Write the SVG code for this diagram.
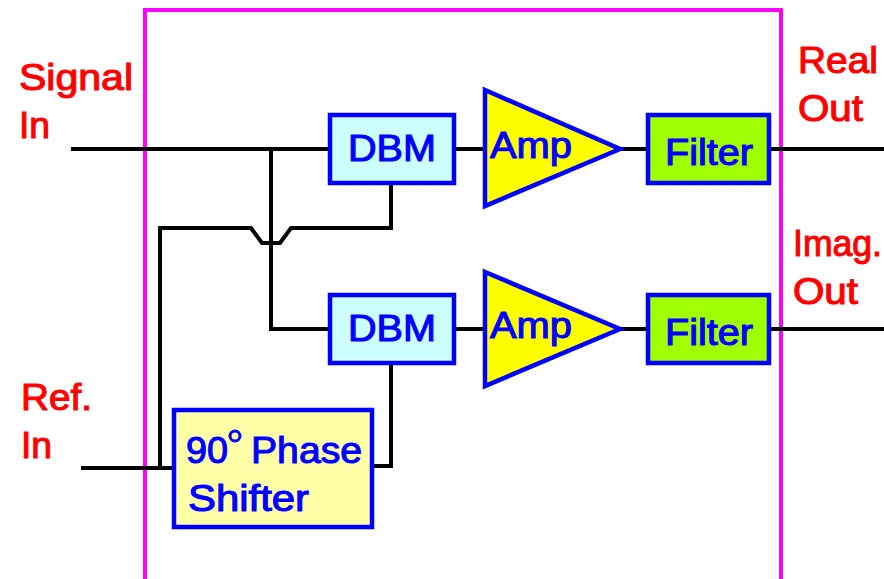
<svg xmlns="http://www.w3.org/2000/svg" width="884" height="579" viewBox="0 0 884 579">
<style>
text{font-family:"Liberation Sans",Arial,sans-serif;font-weight:400;font-size:37px;stroke-width:1.1px}
.l text{fill:#ff0000;stroke:#ff0000}
.b{fill:#0000ff;stroke:#0000ff}
.c{fill:none;stroke:#000;stroke-width:4}
.n{stroke:#0000ff;stroke-width:4.5}
</style>
<rect width="884" height="579" fill="#fff"/>
<rect x="145" y="10" width="636" height="580" fill="none" stroke="#ff00ff" stroke-width="4"/>
<g id="connectors">
<path class="c" d="M71 149H330M271 149V329H330M455 149H485M620 149H647M770 149H884"/>
<path class="c" d="M391 184V228H291L280 243H262L251 228H160V468M81 468H174"/>
<path class="c" d="M391 364V466H372M455 329H485M620 329H647M770 329H884"/>
</g>
<g id="labels" class="l">
<text x="19" y="90" textLength="114" lengthAdjust="spacingAndGlyphs">Signal</text><text x="19" y="138" textLength="31" lengthAdjust="spacingAndGlyphs">In</text>
<text x="21" y="410" textLength="71" lengthAdjust="spacingAndGlyphs">Ref.</text><text x="21" y="458" textLength="31" lengthAdjust="spacingAndGlyphs">In</text>
<text x="798" y="73" textLength="80" lengthAdjust="spacingAndGlyphs">Real</text><text x="798" y="121" textLength="65" lengthAdjust="spacingAndGlyphs">Out</text>
<text x="793" y="256" textLength="89" lengthAdjust="spacingAndGlyphs">Imag.</text><text x="793" y="304" textLength="65" lengthAdjust="spacingAndGlyphs">Out</text>
</g>
<g id="dbm1"><rect class="n" x="330" y="115" width="124" height="68" fill="#ccffff"/><text class="b" x="348" y="161" textLength="88" lengthAdjust="spacingAndGlyphs">DBM</text></g>
<g id="dbm2"><rect class="n" x="330" y="295" width="124" height="68" fill="#ccffff"/><text class="b" x="348" y="341" textLength="88" lengthAdjust="spacingAndGlyphs">DBM</text></g>
<g id="amp1"><polygon class="n" points="485,90 620,149 485,206" fill="#ffff00"/><text class="b" x="490" y="158" textLength="82" lengthAdjust="spacingAndGlyphs">Amp</text></g>
<g id="amp2"><polygon class="n" points="485,272 620,329 485,386" fill="#ffff00"/><text class="b" x="490" y="338" textLength="82" lengthAdjust="spacingAndGlyphs">Amp</text></g>
<g id="filter1"><rect class="n" x="648" y="115" width="121" height="68" fill="#a0ff00"/><text class="b" x="665" y="165" textLength="88" lengthAdjust="spacingAndGlyphs">Filter</text></g>
<g id="filter2"><rect class="n" x="648" y="295" width="121" height="68" fill="#a0ff00"/><text class="b" x="665" y="345" textLength="88" lengthAdjust="spacingAndGlyphs">Filter</text></g>
<g id="phase"><rect class="n" x="174" y="410" width="198" height="117" fill="#ffffa8"/><text class="b" x="186" y="463" textLength="42" lengthAdjust="spacingAndGlyphs">90</text><circle cx="235" cy="436" r="5" fill="none" stroke="#0000ff" stroke-width="3"/><text class="b" x="251" y="463" textLength="111" lengthAdjust="spacingAndGlyphs">Phase</text><text class="b" x="188" y="511" textLength="121" lengthAdjust="spacingAndGlyphs">Shifter</text></g>
</svg>
